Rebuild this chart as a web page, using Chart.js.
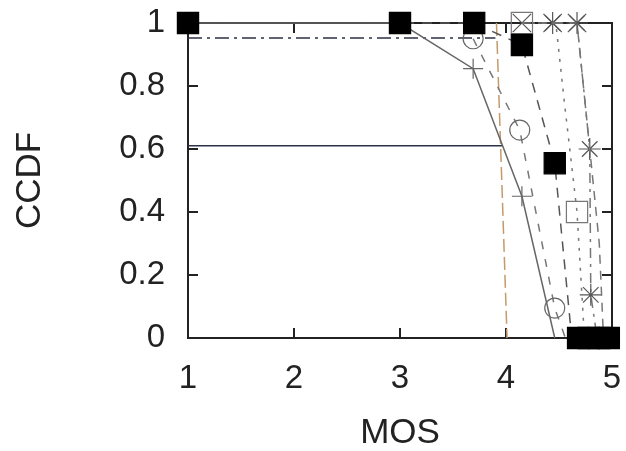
<!DOCTYPE html>
<html>
<head>
<meta charset="utf-8">
<script src="https://cdn.jsdelivr.net/npm/chart.js@4.4.1/dist/chart.umd.min.js"></script>
<style>
    html, body { margin: 0; padding: 0; background: #fff; }
    #wrap { width: 626px; height: 451px; }
</style>
</head>
<body>
<div id="wrap"><canvas id="chart" width="626" height="451"></canvas></div>
<script>
// values (MOS -> CCDF)
var xTicks = [1, 2, 3, 4, 5];
var yTicks = [0, 0.2, 0.4, 0.6, 0.8, 1];

var mosDashDot = [1, 3.9];
var ccdfDashDot = [0.952, 0.952];

var mosFlat = [1, 3.97];
var ccdfFlat = [0.61, 0.61];

var mosBrown = [3.91, 4.01];
var ccdfBrown = [1, 0];

var mosPlus = [1, 3, 3.69, 4.15, 4.46];
var ccdfPlus = [1, 1, 0.855, 0.45, 0];

var mosCircle = [3.69, 4.13, 4.46, 4.56];
var ccdfCircle = [0.95, 0.66, 0.095, 0];

var mosSquare = [1, 3, 3.7, 4.15, 4.46, 4.62, 4.68, 4.78, 4.88, 4.97];
var ccdfSquare = [1, 1, 1, 0.93, 0.555, 0, 0, 0, 0, 0];

var mosBox = [4.15, 4.47, 4.55, 4.67, 4.74];
var ccdfBox = [1, 1, 0.75, 0.4, 0];

var mosCrossX = [4.15, 4.44, 4.67, 4.88, 4.92];
var ccdfCrossX = [1, 1, 1, 0.3, 0];

var mosStar = [4.44, 4.67, 4.79, 4.8, 4.86];
var ccdfStar = [1, 1, 0.6, 0.137, 0];

function toPoints(xs, ys) {
    var out = [];
    for (var i = 0; i < xs.length; i++) {
        out.push({ x: xs[i], y: ys[i] });
    }
    return out;
}

function markerList(n, r, skip) {
    var out = [];
    for (var i = 0; i < n; i++) {
        out.push(skip.indexOf(i) >= 0 ? 0 : r);
    }
    return out;
}

// gnuplot style frame with inward ticks on all four sides
var framePlugin = {
    id: "frame",
    beforeDatasetsDraw: function(chart) {
        var ctx = chart.ctx,
            area = chart.chartArea,
            xs = chart.scales.x,
            ys = chart.scales.y,
            len = 10;
        ctx.save();
        ctx.strokeStyle = "#222";
        ctx.lineWidth = 2;
        ctx.strokeRect(area.left, area.top, area.right - area.left, area.bottom - area.top);
        ctx.beginPath();
        xTicks.forEach(function(v) {
            var px = xs.getPixelForValue(v);
            ctx.moveTo(px, area.bottom);
            ctx.lineTo(px, area.bottom - len);
            ctx.moveTo(px, area.top);
            ctx.lineTo(px, area.top + len);
        });
        yTicks.forEach(function(v) {
            var py = ys.getPixelForValue(v);
            ctx.moveTo(area.left, py);
            ctx.lineTo(area.left + len, py);
            ctx.moveTo(area.right, py);
            ctx.lineTo(area.right - len, py);
        });
        ctx.stroke();
        ctx.restore();
    }
};

var base = {
    fill: false,
    tension: 0,
    clip: false,
    borderWidth: 1.5,
    pointBorderWidth: 1.2,
    pointHoverRadius: 0
};

function series(opts) {
    return Object.assign({}, base, opts);
}

var datasets = [
    series({
        data: toPoints(mosSquare, ccdfSquare),
        borderColor: "#555",
        borderDash: [10, 8],
        pointStyle: "rect",
        pointRadius: markerList(mosSquare.length, 15, [5]),
        pointBackgroundColor: "#000",
        pointBorderColor: "#000"
    }),
    series({
        data: toPoints(mosPlus, ccdfPlus),
        borderColor: "#666",
        pointStyle: "cross",
        pointRadius: markerList(mosPlus.length, 10, [0, 1, 4]),
        pointBorderColor: "#666"
    }),
    series({
        data: toPoints(mosCircle, ccdfCircle),
        borderColor: "#777",
        borderDash: [8, 10],
        pointStyle: "circle",
        pointRadius: markerList(mosCircle.length, 10, [3]),
        pointBackgroundColor: "rgba(255,255,255,0)",
        pointBorderColor: "#666"
    }),
    series({
        data: toPoints(mosBox, ccdfBox),
        borderColor: "#777",
        borderDash: [3, 7],
        pointStyle: "rect",
        pointRadius: markerList(mosBox.length, 15, [1, 2, 4]),
        pointBackgroundColor: "rgba(255,255,255,0)",
        pointBorderColor: "#777"
    }),
    series({
        data: toPoints(mosCrossX, ccdfCrossX),
        borderColor: "#777",
        borderDash: [9, 7],
        pointStyle: "crossRot",
        pointRadius: markerList(mosCrossX.length, 13, [3, 4]),
        pointBorderColor: "#555"
    }),
    series({
        data: toPoints(mosStar, ccdfStar),
        borderColor: "#777",
        borderDash: [10, 6, 3, 6],
        pointStyle: "star",
        pointRadius: markerList(mosStar.length, 11, [4]),
        pointBorderColor: "#555"
    }),
    series({
        data: toPoints(mosBrown, ccdfBrown),
        borderColor: "#c49a6c",
        borderDash: [13, 5],
        pointRadius: 0
    }),
    series({
        data: toPoints(mosFlat, ccdfFlat),
        borderColor: "#2b3245",
        pointRadius: 0
    }),
    series({
        data: toPoints(mosDashDot, ccdfDashDot),
        borderColor: "#2b3245",
        borderDash: [14, 5, 3, 5],
        pointRadius: 0
    })
];

var tickFont = { family: "'Liberation Sans', Arial, sans-serif", size: 33 };
var titleFont = { family: "'Liberation Sans', Arial, sans-serif", size: 35, lineHeight: 1 };

new Chart(document.getElementById("chart").getContext("2d"), {
    type: "line",
    data: { datasets: datasets },
    plugins: [framePlugin],
    options: {
        responsive: false,
        animation: false,
        events: [],
        layout: { autoPadding: false, padding: { top: 23, right: 14, left: 0, bottom: 0 } },
        plugins: { legend: { display: false }, tooltip: { enabled: false } },
        scales: {
            x: {
                type: "linear",
                min: 1,
                max: 5,
                afterFit: function(scale) {
                    scale.height = 113;
                    scale.paddingLeft = 0;
                    scale.paddingRight = 0;
                },
                afterBuildTicks: function(scale) {
                    scale.ticks = xTicks.map(function(v) { return { value: v }; });
                },
                grid: { display: false, drawTicks: false },
                border: { display: false },
                ticks: { color: "#222", font: tickFont, padding: 21, maxRotation: 0 },
                title: { display: true, text: "MOS", color: "#222", font: titleFont, padding: { top: 0, bottom: 0 } }
            },
            y: {
                type: "linear",
                min: 0,
                max: 1,
                afterFit: function(scale) {
                    scale.width = 188;
                    scale.paddingTop = 0;
                    scale.paddingBottom = 0;
                },
                afterBuildTicks: function(scale) {
                    scale.ticks = yTicks.map(function(v) { return { value: v }; });
                },
                grid: { display: false, drawTicks: false },
                border: { display: false },
                ticks: {
                    color: "#222",
                    font: tickFont,
                    padding: 23,
                    callback: function(v) { return String(Math.round(v * 10) / 10); }
                },
                title: { display: true, text: "CCDF", color: "#222", font: titleFont, padding: { top: 13, bottom: 0 } }
            }
        }
    }
});
</script>
</body>
</html>
